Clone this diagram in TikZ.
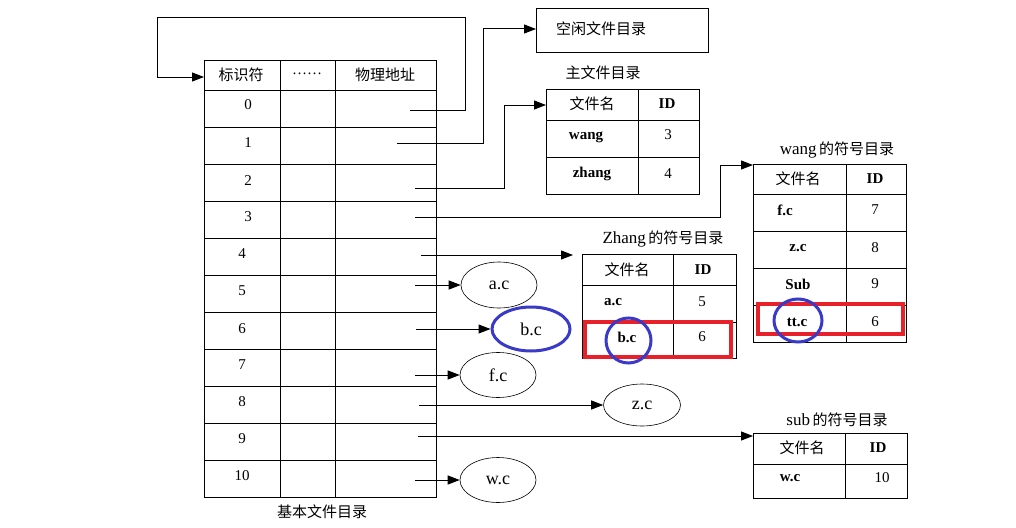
\documentclass[tikz,border=0pt]{standalone}
\usepackage{fontspec}
\setmainfont{Liberation Serif}
\newfontfamily\cjk{Noto Sans CJK SC}
\usetikzlibrary{arrows.meta,shapes.geometric}
\definecolor{boxred}{HTML}{E8202A}
\definecolor{ringblue}{HTML}{3A3AC8}
\begin{document}
\begin{tikzpicture}[x=1pt,y=-1pt,
  tbl/.style={draw, line width=0.9pt, inner sep=0pt, anchor=north west},
  ln/.style={line width=0.9pt},
  arr/.style={line width=1pt, -{Triangle[length=12pt,width=9pt]}},
  elli/.style={draw, ellipse, line width=0.6pt, inner sep=0pt, font=\fontsize{18}{18}\selectfont},
  ring/.style={draw=ringblue, ellipse, line width=3pt, inner sep=0pt},
  redbox/.style={draw=boxred, line width=3.5pt},
  cn/.style={font=\cjk\fontsize{15}{15}\selectfont, inner sep=0pt},
  lat/.style={font=\fontsize{15}{15}\selectfont, inner sep=0pt},
  latb/.style={font=\bfseries\fontsize{15}{15}\selectfont, inner sep=0pt},
  ttl/.style={inner sep=0pt}]
\useasboundingbox (0,0) rectangle (1016,527);
\fill[white] (0,0) rectangle (1016,527);

% ---------- base file directory ----------
\node[tbl, minimum width=232pt, minimum height=437pt] (base) at (204,60) {};
\foreach \y in {90,127,164,201,238,275,312,349,386,423,460}
  \draw[ln] (204,\y) -- (436,\y);
\foreach \x in {280,335}
  \draw[ln] (\x,60) -- (\x,497);
\node[cn] (h1) at (241,75) {标识符};
\node[lat] (h2) at (307,74) {……};
\node[cn] (h3) at (385,75) {物理地址};
\node[lat] (r0) at (248,105) {0};
\node[lat] (r1) at (248,143) {1};
\node[lat] (r2) at (248,181) {2};
\node[lat] (r3) at (248,217) {3};
\node[lat] (r4) at (242,254) {4};
\node[lat] (r5) at (242,291) {5};
\node[lat] (r6) at (242,329) {6};
\node[lat] (r7) at (242,365) {7};
\node[lat] (r8) at (242,402) {8};
\node[lat] (r9) at (242,439) {9};
\node[lat] (r10) at (242,476) {10};
\node[cn] (cap) at (322,512) {基本文件目录};

% ---------- free file directory ----------
\node[tbl, minimum width=172pt, minimum height=44pt] (free) at (536,8) {};
\node[cn] (freet) at (601,29) {空闲文件目录};

% ---------- main file directory ----------
\node[cn] (maint) at (603,73) {主文件目录};
\node[tbl, minimum width=153pt, minimum height=105pt] (mfd) at (546,89) {};
\draw[ln] (546,120) -- (699,120);
\draw[ln] (546,157) -- (699,157);
\draw[ln] (638,89) -- (638,194);
\node[cn] (m1) at (592,104) {文件名};
\node[latb] (m2) at (667,104) {ID};
\node[latb] (m3) at (586,137) {wang};
\node[lat] (m4) at (668,135) {3};
\node[latb] (m5) at (592,174) {zhang};
\node[lat] (m6) at (668,174) {4};

% ---------- wang directory ----------
\node[ttl] (wangt) at (837,150) {{\fontsize{17}{17}\selectfont wang} {\cjk\fontsize{15}{15}\selectfont 的符号目录}};
\node[tbl, minimum width=153pt, minimum height=178pt] (wang) at (753,164) {};
\foreach \y in {194,231,268,305}
  \draw[ln] (753,\y) -- (906,\y);
\draw[ln] (846,164) -- (846,342);
\node[cn] (w1) at (798,179) {文件名};
\node[latb] (w2) at (875,179) {ID};
\node[latb] (w3) at (785,210) {f.c};
\node[lat] (w4) at (875,210) {7};
\node[latb] (w5) at (798,248) {z.c};
\node[lat] (w6) at (875,248) {8};
\node[latb] (w7) at (798,284) {Sub};
\node[lat] (w8) at (875,284) {9};
\node[latb] (w9) at (797,322) {tt.c};
\node[lat] (w10) at (875,322) {6};
\draw[redbox] (758,304) rectangle (903,334);
\node[ring, minimum width=48pt, minimum height=43pt] (wring) at (798,320.5) {};

% ---------- Zhang directory ----------
\node[ttl] (zhangt) at (663,239) {{\fontsize{17}{17}\selectfont Zhang} {\cjk\fontsize{15}{15}\selectfont 的符号目录}};
\node[tbl, minimum width=154pt, minimum height=104pt] (zhang) at (582,254) {};
\draw[ln] (582,285) -- (736,285);
\draw[ln] (582,322) -- (736,322);
\draw[ln] (673,254) -- (673,358);
\node[cn] (z1) at (627,270) {文件名};
\node[latb] (z2) at (703,270) {ID};
\node[latb] (z3) at (613,302) {a.c};
\node[lat] (z4) at (702,302) {5};
\node[latb] (z5) at (627,337) {b.c};
\node[lat] (z6) at (702,337) {6};
\draw[redbox] (585,322) rectangle (731,357);
\node[ring, minimum width=45pt, minimum height=45pt] (zring) at (628.5,340.5) {};

% ---------- sub directory ----------
\node[ttl] (subt) at (837,420) {{\fontsize{17}{17}\selectfont sub} {\cjk\fontsize{15}{15}\selectfont 的符号目录}};
\node[tbl, minimum width=154pt, minimum height=65pt] (sub) at (753,433) {};
\draw[ln] (753,464) -- (907,464);
\draw[ln] (845,433) -- (845,498);
\node[cn] (s1) at (802,448) {文件名};
\node[latb] (s2) at (878,448) {ID};
\node[latb] (s3) at (790,478) {w.c};
\node[lat] (s4) at (882,478) {10};

% ---------- file ellipses ----------
\node[elli, minimum width=76pt, minimum height=46pt] (ac) at (499,285) {a.c};
\node[elli, draw=ringblue, line width=3pt, minimum width=78pt, minimum height=44pt] (bc) at (531,329) {b.c};
\node[elli, minimum width=76pt, minimum height=45pt] (fc) at (498,375) {f.c};
\node[elli, minimum width=77pt, minimum height=42pt] (zc) at (642,405) {z.c};
\node[elli, minimum width=76pt, minimum height=45pt] (wc) at (498,480) {w.c};

% ---------- connectors ----------
\coordinate (p0) at (410,110);
\coordinate (p1) at (397,143);
\coordinate (p2) at (415,188);
\coordinate (p3) at (415,217);
\coordinate (p4) at (421,255);
\coordinate (p5) at (415,285);
\coordinate (p6) at (416,329);
\coordinate (p7) at (415,375);
\coordinate (p8) at (419,405);
\coordinate (p9) at (418,436);
\coordinate (p10) at (415,480);

\draw[arr] (p0) -- (465,110) -- (465,18) -- (157,18) -- (157,77) -- (base.west |- 0,77);
\draw[arr] (p1) -- (483,143) -- (483,29) -- (free.west |- 0,29);
\draw[arr] (p2) -- (504,188) -- (504,105) -- (mfd.west |- 0,105);
\draw[arr] (p3) -- (720,217) -- (720,165) -- (wang.west |- 0,165);
\draw[arr, shorten >=9pt] (p4) -- (zhang.west |- p4);
\draw[arr] (p5) -- (ac.west |- p5);
\draw[arr] (p6) -- (bc.west |- p6);
\draw[arr] (p7) -- (fc.west |- p7);
\draw[arr] (p8) -- (zc.west |- p8);
\draw[arr] (p9) -- (sub.west |- p9);
\draw[arr] (p10) -- (wc.west |- p10);
\end{tikzpicture}
\end{document}
